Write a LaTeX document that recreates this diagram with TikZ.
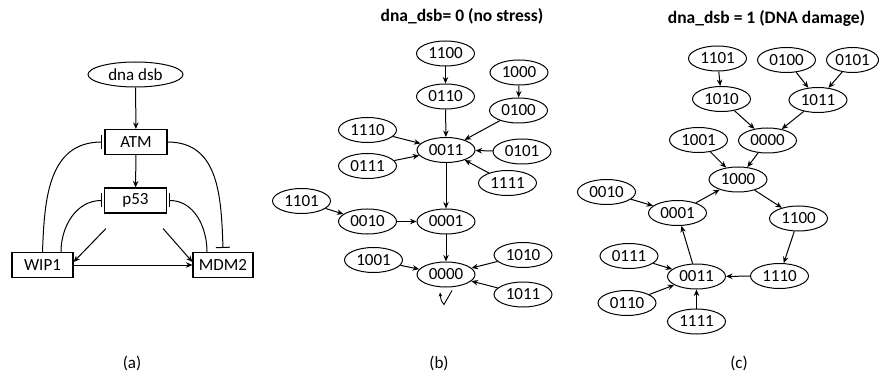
\documentclass[tikz,border=0pt]{standalone}
\usepackage{fontspec}
\setmainfont{Carlito}
\usetikzlibrary{arrows.meta,shapes.geometric,calc}

\begin{document}
\begin{tikzpicture}[x=1pt,y=-1pt,
  st/.style={ellipse,draw,line width=1pt,minimum width=58pt,minimum height=25pt,
             inner sep=0pt,font=\fontsize{17}{17}\selectfont},
  gene/.style={rectangle,draw,line width=1.1pt,minimum width=62pt,minimum height=25pt,
             inner sep=0pt,font=\fontsize{17}{17}\selectfont},
  act/.style={line width=1pt,-{Stealth[length=6.5pt,width=5.5pt]}},
  inh/.style={line width=1pt,-{Bar[width=14pt]}},
  ttl/.style={font=\bfseries\fontsize{17.5}{18}\selectfont},
  lbl/.style={font=\fontsize{17}{17}\selectfont}]

\useasboundingbox (0,0) rectangle (879,377);

% ---------- (a) regulatory network ----------
\node[ellipse,draw,line width=1pt,minimum width=95pt,minimum height=25pt,inner sep=0pt,
      font=\fontsize{17}{17}\selectfont] (dsb) at (135.5,74.5) {dna dsb};
\node[gene] (atm) at (136,142) {ATM};
\node[gene] (p53) at (135.5,200.5) {p53};
\node[gene,minimum width=61pt] (wip) at (42.5,265) {WIP1};
\node[gene,minimum width=60pt] (mdm) at (223,265) {MDM2};

\draw[act] (dsb) -- (atm);
\draw[act] (atm) -- (p53);
\draw[act] (wip) -- (mdm);
\draw[act] ([shift={(2,15)}]p53.south west) -- ([yshift=3pt]wip.east);
\draw[act] ([shift={(-4,15)}]p53.south east) -- ([yshift=3pt]mdm.west);

\draw[inh] (wip.north) to[out=88,in=180,looseness=1.1] ([xshift=-2pt]atm.west);
\draw[inh] ([xshift=18.5pt]wip.north) to[out=90,in=180] ([xshift=-2pt]p53.west);
\draw[inh] ([xshift=-16pt]mdm.north) to[out=90,in=0] ([xshift=2pt]p53.east);
\draw[inh] (atm.east) to[out=0,in=92,looseness=1.1] ([yshift=4pt]mdm.north);

\node[lbl] (capa) at (132,363) {(a)};

% ---------- (b) state transitions, no stress ----------
\node[ttl] (ttlb) at (462,16) {dna\_dsb= 0 (no stress)};

\node[st] (b1100) at (445.5,53.5) {1100};
\node[st] (b0110) at (445.5,96.5) {0110};
\node[st] (b1000) at (519,72.5) {1000};
\node[st] (b0100) at (518.5,110.5) {0100};
\node[st] (b1110) at (367.5,130) {1110};
\node[st] (b0011) at (446,150) {0011};
\node[st] (b0101) at (522,151.5) {0101};
\node[st] (b0111) at (367.5,166) {0111};
\node[st] (b1111) at (507.5,183) {1111};
\node[st] (b1101) at (301.5,201) {1101};
\node[st] (b0010) at (367.5,221.5) {0010};
\node[st] (b0001) at (446,221.5) {0001};
\node[st] (b1001) at (373.5,260) {1001};
\node[st] (b1010) at (523,255) {1010};
\node[st] (b0000) at (446,274.5) {0000};
\node[st] (b1011) at (523,294.5) {1011};

\draw[act] (b1100) -- (b0110);
\draw[act] (b0110) -- (b0011);
\draw[act] (b1000) -- (b0100);
\draw[act] (b0100) -- (b0011);
\draw[act] (b1110) -- (b0011);
\draw[act] (b0101) -- (b0011);
\draw[act] (b0111) -- (b0011);
\draw[act] (b1111) -- (b0011);
\draw[act] (b0011) -- (b0001);
\draw[act] (b1101) -- (b0010);
\draw[act] (b0010) -- (b0001);
\draw[act] (b0001) -- (b0000);
\draw[act] (b1001) -- (b0000);
\draw[act] (b1010) -- (b0000);
\draw[act] (b1011) -- (b0000);

% fixed point marker under 0000
\coordinate (lp) at ([xshift=6pt,yshift=-3pt]b0000.south);
\draw[line width=0.9pt,-{Stealth[length=4pt,width=3.5pt]}]
  (lp) -- ($(lp)+(-8,14)$) .. controls ($(lp)+(-11,10)$) .. ($(lp)+(-12,2)$);

\node[lbl] (capb) at (439,363) {(b)};

% ---------- (c) state transitions, DNA damage ----------
\node[ttl] (ttlc) at (766.5,18) {dna\_dsb = 1 (DNA damage)};

\node[st] (c1101) at (717.5,58.5) {1101};
\node[st] (c0100) at (786.5,60) {0100};
\node[st,minimum width=52pt] (c0101) at (852.5,60) {0101};
\node[st] (c1010) at (721.5,99) {1010};
\node[st] (c1011) at (818,100) {1011};
\node[st] (c1001) at (698.5,140) {1001};
\node[st] (c0000) at (767.5,140.5) {0000};
\node[st] (c1000) at (738,179.5) {1000};
\node[st] (c0010) at (606.5,192) {0010};
\node[st] (c0001) at (677.5,213) {0001};
\node[st] (c1100) at (798.5,218.5) {1100};
\node[st] (c0111) at (629,256) {0111};
\node[st] (c0011) at (696.5,276.5) {0011};
\node[st] (c1110) at (779.5,276) {1110};
\node[st] (c0110) at (627,303) {0110};
\node[st] (c1111) at (696.5,321.5) {1111};

\draw[act] (c1101) -- (c1010);
\draw[act] (c0100) -- (c1011);
\draw[act] (c0101) -- (c1011);
\draw[act] (c1010) -- (c0000);
\draw[act] (c1011) -- (c0000);
\draw[act] (c1001) -- (c1000);
\draw[act] (c0000) -- (c1000);
\draw[act] (c1000) -- (c1100);
\draw[act] (c1100) -- (c1110);
\draw[act] (c1110) -- (c0011);
\draw[act] (c0011) -- (c0001);
\draw[act] (c0010) -- (c0001);
\draw[act] (c0001) -- (c1000);
\draw[act] (c0111) -- (c0011);
\draw[act] (c0110) -- (c0011);
\draw[act] (c1111) -- (c0011);

\node[lbl] (capc) at (739,363) {(c)};

\end{tikzpicture}
\end{document}
